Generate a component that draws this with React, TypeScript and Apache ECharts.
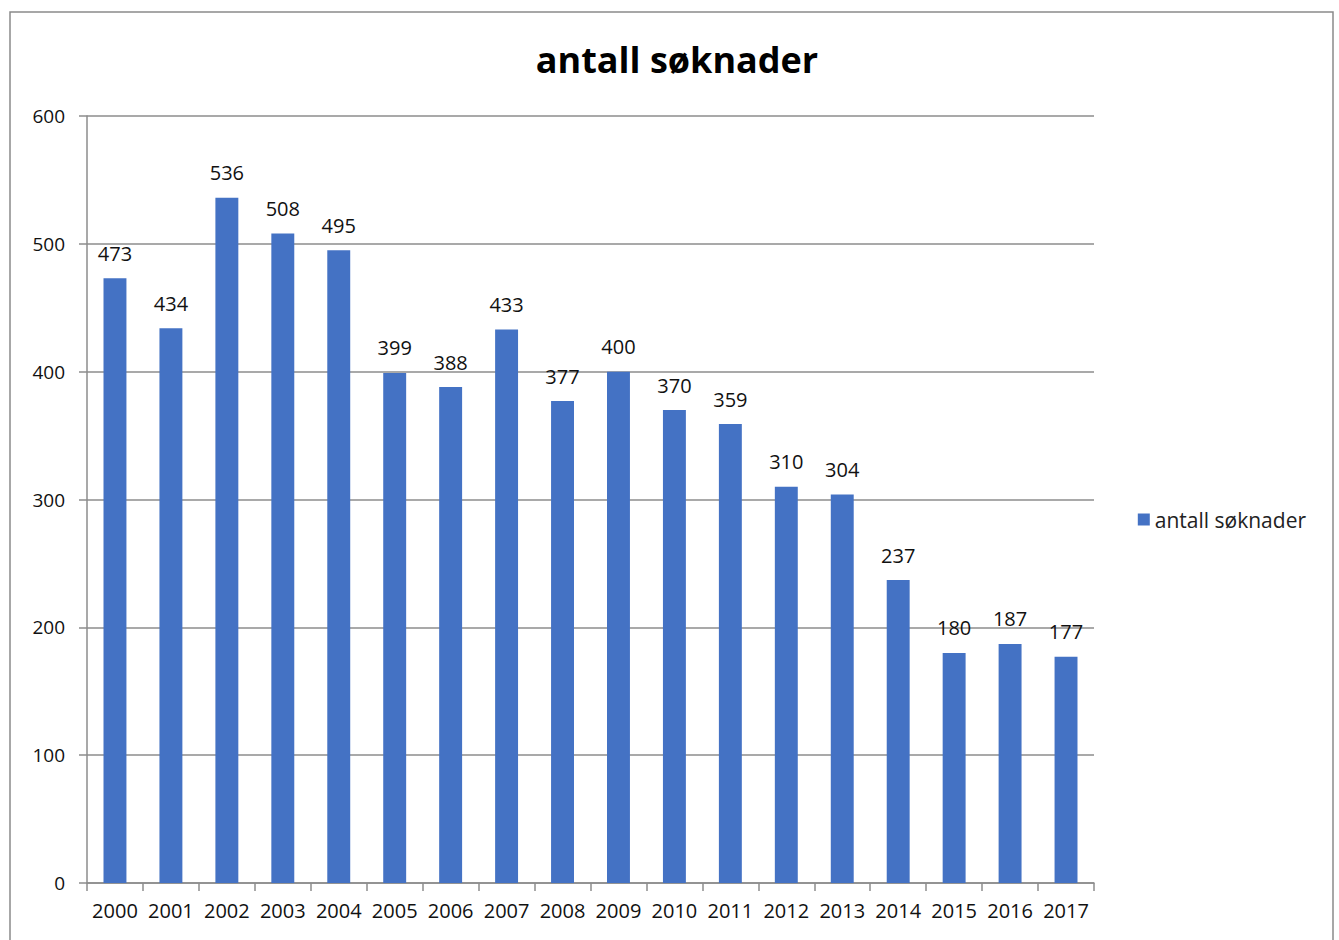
import React, { useEffect, useRef } from "react";
import * as echarts from "echarts";

const years = ["2000","2001","2002","2003","2004","2005","2006","2007","2008","2009","2010","2011","2012","2013","2014","2015","2016","2017"];
const applications = [473,434,536,508,495,399,388,433,377,400,370,359,310,304,237,180,187,177];
const seriesName = "antall søknader";
const titleText = "antall søknader";

export default function App() {
  const ref = useRef<HTMLDivElement>(null);
  useEffect(() => {
    if (!ref.current) return;
    const chart = echarts.init(ref.current, null, { renderer: "svg" });
    const font = "'Open Sans', sans-serif";
    chart.setOption({
      animation: false,
      backgroundColor: "#ffffff",
      title: {
        text: titleText,
        left: 672,
        textAlign: "center",
        top: 36,
        textStyle: { fontFamily: font, fontWeight: "bold", fontSize: 36, color: "#000" },
      },
      legend: {
        right: 28,
        top: 504,
        orient: "vertical",
        itemWidth: 12,
        itemHeight: 12,
        itemGap: 6,
        textStyle: { fontFamily: font, fontSize: 21, color: "#222" },
        data: [{ name: seriesName, icon: "rect" }],
      },
      grid: { left: 87, top: 116, right: 245, bottom: 57, containLabel: false },
      xAxis: {
        type: "category",
        data: years,
        boundaryGap: true,
        axisLine: { lineStyle: { color: "#8c8c8c", width: 1.5 } },
        axisTick: { show: true, length: 8, alignWithLabel: false, lineStyle: { color: "#8c8c8c", width: 1.5 } },
        axisLabel: { fontFamily: font, fontSize: 20, color: "#111", margin: 17, interval: 0 },
      },
      yAxis: {
        type: "value",
        min: 0,
        max: 600,
        interval: 100,
        axisLine: { show: true, lineStyle: { color: "#8c8c8c", width: 1.5 } },
        axisTick: { show: true, length: 8, lineStyle: { color: "#8c8c8c", width: 1.5 } },
        splitLine: { lineStyle: { color: "#8c8c8c", width: 1.5 } },
        axisLabel: { fontFamily: font, fontSize: 19, color: "#111", margin: 22 },
      },
      series: [
        {
          name: seriesName,
          type: "bar",
          data: applications,
          barWidth: "41%",
          itemStyle: { color: "#4472C4" },
          label: {
            show: true,
            position: "top",
            distance: 15,
            fontFamily: font,
            fontSize: 20,
            color: "#111",
          },
        },
      ],
      graphic: [
        {
          type: "rect",
          shape: { x: 10, y: 12, width: 1323, height: 940 },
          style: { fill: "none", stroke: "#8a8a8a", lineWidth: 1.5 },
          silent: true,
        },
      ],
    });
    return () => chart.dispose();
  }, []);
  return <div ref={ref} style={{ position: "absolute", left: 0, top: 0, width: 1339, height: 940 }} />;
}
